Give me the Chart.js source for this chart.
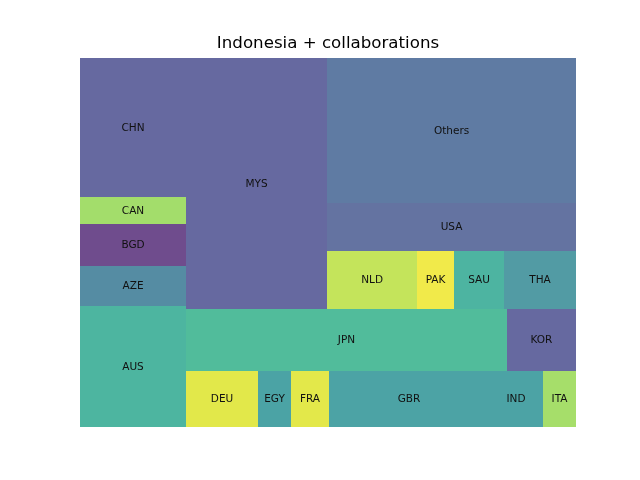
<!DOCTYPE html>
<html>
<head>
<meta charset="utf-8">
<script src="https://cdn.jsdelivr.net/npm/chart.js@4.4.1/dist/chart.umd.min.js"></script>
<style>
html,body{margin:0;padding:0;background:#ffffff;}
#wrap{width:640px;height:480px;}
</style>
</head>
<body>
<div id="wrap"><canvas id="c" width="640" height="480"></canvas></div>
<script>
// ---- data ----
const chartTitle = 'Indonesia + collaborations';
const categories = ['AUS','AZE','BGD','CAN','CHN','DEU','EGY','FRA','GBR','IND','ITA','JPN','KOR','MYS','NLD','PAK','SAU','THA','USA','Others'];
const counts = [701,232,245,155,805,220,101,116,490,165,101,1087,234,1934,285,117,158,228,653,1973];
const cellColors = ['#4db5a0','#558ca3','#6f4c8d','#a3dd6b','#6669a0','#e2e84a','#4ba3a5','#e3e84a','#4ca3a5','#4ca3a5','#a6de6a','#51bc9b','#6669a0','#6669a0','#c4e45b','#f1ea4a','#4db4a1','#529ba4','#6473a1','#5f7ba3'];

// ---- squarify layout (same algorithm as the python 'squarify' package) ----
function layoutrow(sizes, x, y, dx, dy) {
  const covered = sizes.reduce((a,b)=>a+b,0);
  const width = covered / dy;
  const out = [];
  for (const s of sizes) { out.push({x:x, y:y, dx:width, dy:s/width}); y += s/width; }
  return out;
}
function layoutcol(sizes, x, y, dx, dy) {
  const covered = sizes.reduce((a,b)=>a+b,0);
  const height = covered / dx;
  const out = [];
  for (const s of sizes) { out.push({x:x, y:y, dx:s/height, dy:height}); x += s/height; }
  return out;
}
function layout(sizes, x, y, dx, dy) {
  return dx >= dy ? layoutrow(sizes, x, y, dx, dy) : layoutcol(sizes, x, y, dx, dy);
}
function leftover(sizes, x, y, dx, dy) {
  const covered = sizes.reduce((a,b)=>a+b,0);
  if (dx >= dy) { const w = covered/dy; return [x+w, y, dx-w, dy]; }
  const h = covered/dx; return [x, y+h, dx, dy-h];
}
function worst(sizes, x, y, dx, dy) {
  return Math.max(...layout(sizes, x, y, dx, dy).map(r => Math.max(r.dx/r.dy, r.dy/r.dx)));
}
function squarify(sizes, x, y, dx, dy) {
  if (sizes.length === 0) return [];
  if (sizes.length === 1) return layout(sizes, x, y, dx, dy);
  let i = 1;
  while (i < sizes.length && worst(sizes.slice(0,i), x, y, dx, dy) >= worst(sizes.slice(0,i+1), x, y, dx, dy)) i++;
  const cur = sizes.slice(0,i), rest = sizes.slice(i);
  const [lx, ly, ldx, ldy] = leftover(cur, x, y, dx, dy);
  return layout(cur, x, y, dx, dy).concat(squarify(rest, lx, ly, ldx, ldy));
}
const NORM = 100;
const total = counts.reduce((a,b)=>a+b,0);
const normSizes = counts.map(v => v * NORM * NORM / total);
const rects = squarify(normSizes, 0, 0, NORM, NORM);

// ---- plugin drawing the cells through the chart's scales ----
const treemapCells = {
  id: 'treemapCells',
  beforeDatasetsDraw(chart) {
    const xs = chart.scales.x, ys = chart.scales.y, ctx = chart.ctx;
    ctx.save();
    rects.forEach((r, i) => {
      const x0 = Math.round(xs.getPixelForValue(r.x)), x1 = Math.round(xs.getPixelForValue(r.x + r.dx));
      const y0 = Math.round(ys.getPixelForValue(r.y)), y1 = Math.round(ys.getPixelForValue(r.y + r.dy));
      ctx.fillStyle = cellColors[i];
      ctx.fillRect(x0, y1, x1 - x0, y0 - y1);
    });
    ctx.restore();
  },
  afterDatasetsDraw(chart) {
    const xs = chart.scales.x, ys = chart.scales.y, ctx = chart.ctx;
    ctx.save();
    ctx.font = '10.5px "DejaVu Sans"';
    ctx.fillStyle = '#111111';
    ctx.textAlign = 'center';
    ctx.textBaseline = 'middle';
    rects.forEach((r, i) => {
      ctx.fillText(categories[i], xs.getPixelForValue(r.x + r.dx/2), ys.getPixelForValue(r.y + r.dy/2) + 0.5);
    });
    ctx.restore();
  }
};

new Chart(document.getElementById('c'), {
  type: 'scatter',
  data: {
    datasets: [{
      label: 'cells',
      data: rects.map(r => ({x: r.x + r.dx/2, y: r.y + r.dy/2})),
      pointRadius: 0,
      pointHoverRadius: 0
    }]
  },
  options: {
    responsive: false,
    animation: false,
    layout: { padding: { left: 80, right: 64, top: 33.5, bottom: 53 } },
    plugins: {
      legend: { display: false },
      tooltip: { enabled: false },
      title: {
        display: true,
        text: chartTitle,
        color: '#000000',
        font: { family: 'DejaVu Sans', size: 16.67, weight: 'normal', lineHeight: 1.2 },
        padding: { top: 0, bottom: 4.5 }
      }
    },
    scales: {
      x: { type: 'linear', min: 0, max: NORM, display: false },
      y: { type: 'linear', min: 0, max: NORM, display: false }
    }
  },
  plugins: [treemapCells]
});
</script>
</body>
</html>
